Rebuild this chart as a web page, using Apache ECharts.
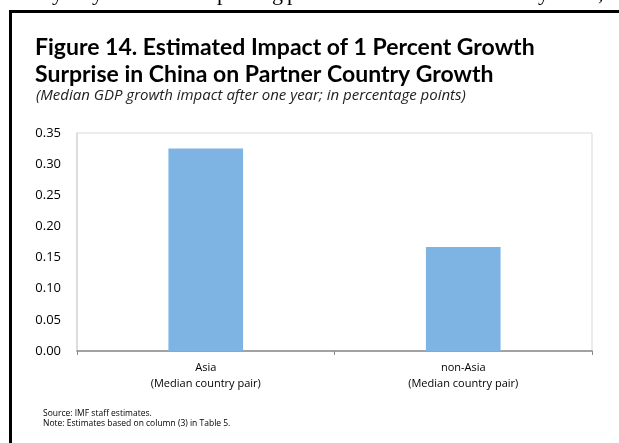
<!DOCTYPE html>
<html>
<head>
<meta charset="utf-8">
<script src="https://cdn.jsdelivr.net/npm/echarts@6/dist/echarts.min.js"></script>
<style>
  html, body { margin: 0; padding: 0; background: #fff; }
  #chart { width: 619px; height: 443px; }
</style>
</head>
<body>
<div id="chart"></div>
<script>
// Categories and median growth impact (percentage points)
const categories = ['Asia\n(Median country pair)', 'non-Asia\n(Median country pair)'];
const impact = [0.325, 0.167];
const yTicks = { min: 0, max: 0.35, step: 0.05 };

const titleLines = [
  'Figure 14. Estimated Impact of 1 Percent Growth',
  'Surprise in China on Partner Country Growth'
];
const subtitle = '(Median GDP growth impact after one year; in percentage points)';
const notes = ['Source: IMF staff estimates.', 'Note: Estimates based on column (3) in Table 5.'];

// Descenders of the preceding body-text line, clipped at the top edge
const runningText = [
  { ch: 'y', x: 52 }, { ch: 'y', x: 92 }, { ch: 'p', x: 217 }, { ch: 'g', x: 272 },
  { ch: 'p', x: 287 }, { ch: 'y', x: 538 }, { ch: ',', x: 598 }
];

const chart = echarts.init(document.getElementById('chart'), null, { renderer: 'canvas' });

const graphics = [
  // frame rules (left and top)
  { type: 'rect', left: 9, top: 10, shape: { width: 3, height: 440 }, style: { fill: '#000' }, silent: true },
  { type: 'rect', left: 9, top: 10, shape: { width: 615, height: 3 }, style: { fill: '#000' }, silent: true },
  {
    type: 'text', left: 35, top: 34,
    style: { text: titleLines.join('\n'), font: 'bold 23px Lato, sans-serif', fill: '#000', lineHeight: 27 }
  },
  {
    type: 'text', left: 36, top: 88,
    style: { text: subtitle, font: 'italic 15px "Open Sans", sans-serif', fill: '#222' }
  },
  {
    type: 'text', left: 43, top: 408,
    style: { text: notes.join('\n'), font: '8.5px "Open Sans", sans-serif', fill: '#000', lineHeight: 10.5 }
  }
];
runningText.forEach(function (g) {
  graphics.push({
    type: 'text', left: g.x, top: -17,
    style: { text: g.ch, font: '22px "Liberation Serif", serif', fill: '#000' }
  });
});

chart.setOption({
  animation: false,
  backgroundColor: '#fff',
  grid: {
    left: 77, right: 27, top: 133, bottom: 92,
    show: true, borderColor: '#d9d9d9', borderWidth: 1
  },
  xAxis: {
    type: 'category',
    data: categories,
    axisLine: { lineStyle: { color: '#898989', width: 1.5 } },
    axisTick: { show: true, length: 4, lineStyle: { color: '#898989' } },
    axisLabel: { color: '#000', fontSize: 11, lineHeight: 16, margin: 9, fontFamily: '"Open Sans", sans-serif' }
  },
  yAxis: {
    type: 'value',
    min: yTicks.min, max: yTicks.max, interval: yTicks.step,
    axisLine: { show: true, lineStyle: { color: '#d9d9d9', width: 1.5 } },
    axisTick: { show: false },
    splitLine: { show: false },
    axisLabel: {
      color: '#000', fontSize: 13, margin: 16, fontFamily: '"Open Sans", sans-serif',
      formatter: function (v) { return v.toFixed(2); }
    }
  },
  series: [{
    type: 'bar',
    data: impact,
    barWidth: '29%',
    itemStyle: { color: '#7eb4e4' }
  }],
  graphic: graphics
});
</script>
</body>
</html>
